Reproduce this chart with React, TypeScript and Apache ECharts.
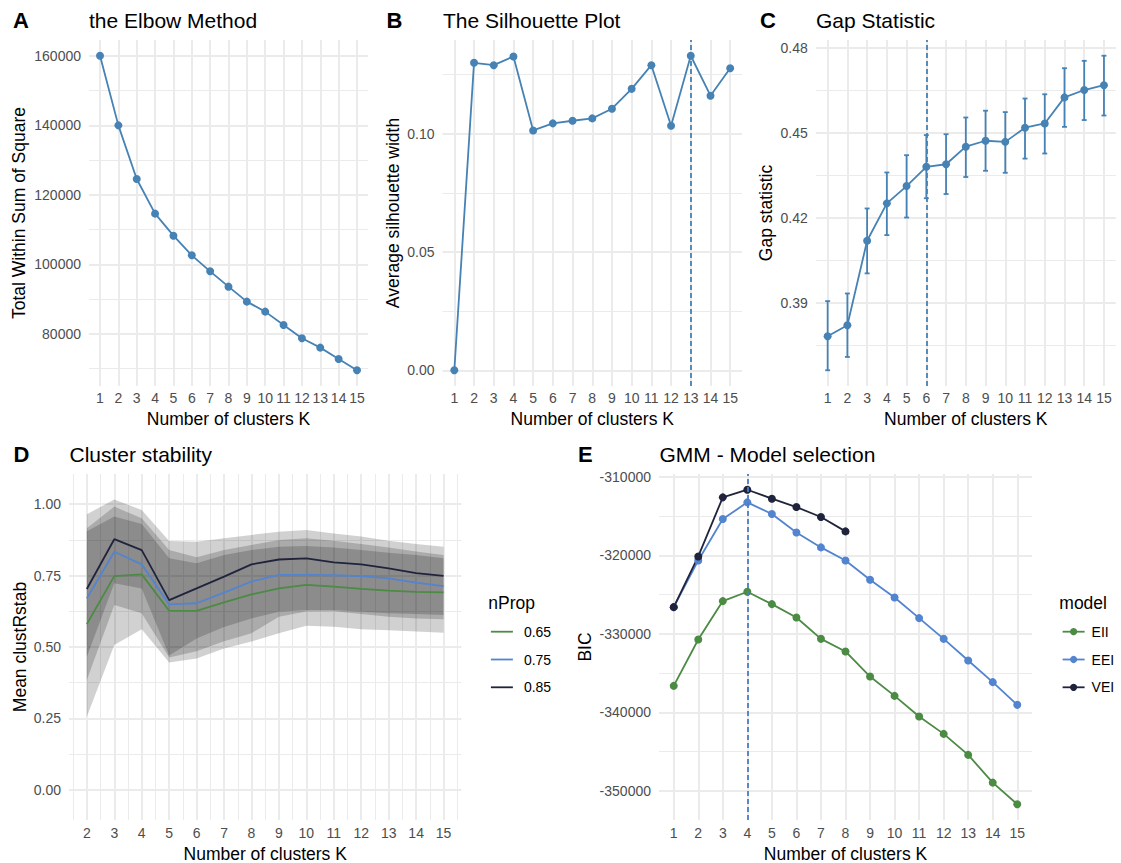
import React, { useEffect, useRef } from 'react';
import * as echarts from 'echarts';

const FONT = '"Liberation Sans", Arial, Helvetica, sans-serif';

// ---------- Panel A: elbow ----------
const kValues = [1, 2, 3, 4, 5, 6, 7, 8, 9, 10, 11, 12, 13, 14, 15];
const wssValues = [160000, 139980, 124550, 114590, 108260, 102610, 98010, 93600, 89290, 86420, 82590, 78750, 76070, 72810, 69560];
const wssTicks = [80000, 100000, 120000, 140000, 160000];
const wssMinorTicks = [70000, 90000, 110000, 130000, 150000];

// ---------- Panel B: silhouette ----------
const silhouetteValues = [0.0, 0.13, 0.129, 0.1327, 0.1014, 0.1044, 0.1055, 0.1065, 0.1106, 0.119, 0.129, 0.1034, 0.133, 0.1161, 0.1277];
const silhouetteBestK = 13;
const silTicks = [0, 0.05, 0.1];
const silMinorTicks = [0.025, 0.075, 0.125];

// ---------- Panel C: gap statistic ----------
const gapValues = [0.3782, 0.3821, 0.4119, 0.4251, 0.4312, 0.438, 0.4389, 0.4451, 0.4472, 0.4468, 0.4518, 0.4533, 0.4625, 0.4651, 0.4668];
const gapLower = [0.3662, 0.3709, 0.4004, 0.4139, 0.4201, 0.4269, 0.4284, 0.4344, 0.4366, 0.4359, 0.4409, 0.4427, 0.4521, 0.4545, 0.4561];
const gapUpper = [0.3906, 0.3933, 0.4233, 0.436, 0.4421, 0.4492, 0.4495, 0.4554, 0.4578, 0.4573, 0.4621, 0.4636, 0.4728, 0.4754, 0.4772];
const gapBestK = 6;
const gapTicks = [0.39, 0.42, 0.45, 0.48];
const gapMinorTicks = [0.375, 0.405, 0.435, 0.465];

// ---------- Panel D: cluster stability ----------
const stabK = [2, 3, 4, 5, 6, 7, 8, 9, 10, 11, 12, 13, 14, 15];
const stab065 = [0.58, 0.748, 0.754, 0.627, 0.626, 0.656, 0.684, 0.705, 0.717, 0.711, 0.703, 0.697, 0.693, 0.691];
const stab075 = [0.67, 0.833, 0.789, 0.649, 0.653, 0.69, 0.729, 0.752, 0.752, 0.751, 0.748, 0.74, 0.725, 0.713];
const stab085 = [0.703, 0.877, 0.839, 0.664, 0.705, 0.746, 0.789, 0.806, 0.81, 0.796, 0.789, 0.775, 0.758, 0.749];
const ribbon065Lower = [0.256, 0.507, 0.562, 0.446, 0.46, 0.495, 0.519, 0.548, 0.574, 0.571, 0.562, 0.559, 0.554, 0.55];
const ribbon065Upper = [0.905, 0.956, 0.93, 0.81, 0.793, 0.822, 0.839, 0.851, 0.853, 0.848, 0.839, 0.83, 0.822, 0.81];
const ribbon075Lower = [0.385, 0.647, 0.618, 0.463, 0.485, 0.52, 0.548, 0.606, 0.624, 0.625, 0.615, 0.606, 0.6, 0.597];
const ribbon075Upper = [0.915, 0.991, 0.95, 0.839, 0.814, 0.839, 0.857, 0.874, 0.88, 0.872, 0.86, 0.848, 0.834, 0.822];
const ribbon085Lower = [0.466, 0.723, 0.705, 0.47, 0.53, 0.57, 0.6, 0.623, 0.629, 0.629, 0.623, 0.618, 0.615, 0.612];
const ribbon085Upper = [0.964, 1.016, 0.979, 0.871, 0.868, 0.88, 0.892, 0.903, 0.909, 0.897, 0.886, 0.872, 0.86, 0.851];
const stabLimits = [-0.05, 1.05];
const stabTicks = [0, 0.25, 0.5, 0.75, 1];
const stabMinorTicks = [0.125, 0.375, 0.625, 0.875];
const stabKMinorTicks = [1.5, 2.5, 3.5, 4.5, 5.5, 6.5, 7.5, 8.5, 9.5, 10.5, 11.5, 12.5, 13.5, 14.5, 15.5];
const nPropNames = ['0.65', '0.75', '0.85'];

// ---------- Panel E: GMM BIC ----------
const bicEII = [-336610, -330700, -325810, -324620, -326200, -327900, -330620, -332230, -335420, -337890, -340520, -342730, -345410, -348940, -351700];
const bicEEI = [-326580, -320630, -315360, -313230, -314720, -317060, -318970, -320630, -323090, -325350, -327980, -330620, -333380, -336140, -339030];
const bicVEI = [-326580, -320120, -312590, -311620, -312760, -313830, -315100, -316930];
const bicBestK = 4;
const bicTicks = [-350000, -340000, -330000, -320000, -310000];
const bicMinorTicks = [-345000, -335000, -325000, -315000];
const modelNames = ['EII', 'EEI', 'VEI'];

// ---------- styling ----------
const STEEL = '#4682B4';
const GREEN = '#4B8B43';
const BLUE = '#5284CF';
const NAVY = '#20233C';
const GRID_COL = '#EBEBEB';
const TICK_COL = '#4D4D4D';
const LW = 1.8;

function expand(lo: number, hi: number, m = 0.05): [number, number] {
  const r = hi - lo;
  return [lo - r * m, hi + r * m];
}

const boxes = [
  { left: 89, top: 40, width: 279, height: 346 },
  { left: 442.5, top: 40, width: 299.5, height: 346 },
  { left: 815.8, top: 40, width: 300, height: 346 },
  { left: 69, top: 474, width: 392.4, height: 346 },
  { left: 659, top: 474, width: 373, height: 346 },
];

type AxCfg = {
  xMin: number; xMax: number; xMajor: number[]; xMinor: number[];
  yMin: number; yMax: number; yMajor: number[]; yMinor: number[];
  yFmt: (v: number) => string;
  xName: string; yName: string; xNameGap: number; yNameGap: number; xLabelMargin: number;
};

function buildAxes(i: number, c: AxCfg) {
  const nameStyle = { fontSize: 17.5, color: '#000', fontFamily: FONT };
  const labelStyle = { color: TICK_COL, fontSize: 14, fontFamily: FONT };
  const xMain = {
    type: 'value', gridIndex: i, min: c.xMin, max: c.xMax,
    axisLine: { show: false },
    axisTick: { show: false, customValues: c.xMajor },
    axisLabel: { ...labelStyle, customValues: c.xMajor, margin: c.xLabelMargin, formatter: (v: number) => String(Math.round(v)) },
    splitLine: { show: true, lineStyle: { color: GRID_COL, width: 2 } },
    name: c.xName, nameLocation: 'middle', nameGap: c.xNameGap, nameTextStyle: nameStyle,
    z: 0,
  };
  const xMinor = {
    type: 'value', gridIndex: i, min: c.xMin, max: c.xMax,
    axisLine: { show: false },
    axisTick: { show: false, customValues: c.xMinor.length ? c.xMinor : [c.xMin] },
    axisLabel: { show: false, customValues: c.xMinor.length ? c.xMinor : [c.xMin] },
    splitLine: { show: c.xMinor.length > 0, lineStyle: { color: GRID_COL, width: 1 } },
    z: 0,
  };
  const yMain = {
    type: 'value', gridIndex: i, min: c.yMin, max: c.yMax, position: 'left',
    axisLine: { show: false },
    axisTick: { show: false, customValues: c.yMajor },
    axisLabel: { ...labelStyle, customValues: c.yMajor, margin: 8, formatter: c.yFmt },
    splitLine: { show: true, lineStyle: { color: GRID_COL, width: 2 } },
    name: c.yName, nameLocation: 'middle', nameGap: c.yNameGap, nameTextStyle: nameStyle,
    z: 0,
  };
  const yMinor = {
    type: 'value', gridIndex: i, min: c.yMin, max: c.yMax, position: 'left',
    axisLine: { show: false },
    axisTick: { show: false, customValues: c.yMinor },
    axisLabel: { show: false, customValues: c.yMinor },
    splitLine: { show: true, lineStyle: { color: GRID_COL, width: 1 } },
    z: 0,
  };
  return { x: [xMain, xMinor], y: [yMain, yMinor] };
}

const pairs = (xs: number[], ys: number[]) => ys.map((y, i) => [xs[i], y]);

function ribbonSeries(lower: number[], upper: number[], name: string) {
  return {
    type: 'custom', name, xAxisIndex: 6, yAxisIndex: 6, silent: true, z: 1,
    data: [[stabK[0], lower[0]]],
    encode: { x: 0, y: 1 },
    renderItem: (_p: any, api: any) => {
      const pts: number[][] = [];
      stabK.forEach((k, i) => pts.push(api.coord([k, upper[i]])));
      for (let i = stabK.length - 1; i >= 0; i--) pts.push(api.coord([stabK[i], lower[i]]));
      return { type: 'polygon', shape: { points: pts }, style: { fill: 'rgba(0,0,0,0.18)' } };
    },
  };
}

function dashedMark(x: number, color: string) {
  return {
    silent: true, symbol: ['none', 'none'], label: { show: false },
    lineStyle: { type: [5, 3], color, width: LW },
    data: [{ xAxis: x }],
  };
}

export default function App() {
  const ref = useRef<HTMLDivElement>(null);
  useEffect(() => {
    if (!ref.current) return;
    const chart = echarts.init(ref.current, null, { renderer: 'svg' });

    const discreteX = expand(1, 15, 0.6 / 14);
    const aY = expand(Math.min(...wssValues), Math.max(...wssValues));
    const bY = expand(Math.min(...silhouetteValues), Math.max(...silhouetteValues));
    const cY = expand(Math.min(...gapLower), Math.max(...gapUpper));
    const dX = expand(stabK[0], stabK[stabK.length - 1]);
    const dY = expand(stabLimits[0], stabLimits[1]);
    const allBic = [...bicEII, ...bicEEI, ...bicVEI];
    const eY = expand(Math.min(...allBic), Math.max(...allBic));
    const xName = 'Number of clusters K';
    const f2 = (v: number) => v.toFixed(2);
    const fInt = (v: number) => String(Math.round(v));

    const cfgs: AxCfg[] = [
      { xMin: discreteX[0], xMax: discreteX[1], xMajor: kValues, xMinor: [], yMin: aY[0], yMax: aY[1], yMajor: wssTicks, yMinor: wssMinorTicks, yFmt: fInt, xName, yName: 'Total Within Sum of Square', xNameGap: 23.5, yNameGap: 61, xLabelMargin: 5 },
      { xMin: discreteX[0], xMax: discreteX[1], xMajor: kValues, xMinor: [], yMin: bY[0], yMax: bY[1], yMajor: silTicks, yMinor: silMinorTicks, yFmt: f2, xName, yName: 'Average silhouette width', xNameGap: 23.5, yNameGap: 40.5, xLabelMargin: 5 },
      { xMin: discreteX[0], xMax: discreteX[1], xMajor: kValues, xMinor: [], yMin: cY[0], yMax: cY[1], yMajor: gapTicks, yMinor: gapMinorTicks, yFmt: f2, xName, yName: 'Gap statistic', xNameGap: 23.5, yNameGap: 40.5, xLabelMargin: 5 },
      { xMin: dX[0], xMax: dX[1], xMajor: stabK, xMinor: stabKMinorTicks, yMin: dY[0], yMax: dY[1], yMajor: stabTicks, yMinor: stabMinorTicks, yFmt: f2, xName, yName: 'Mean clustRstab', xNameGap: 24.5, yNameGap: 40, xLabelMargin: 6 },
      { xMin: discreteX[0], xMax: discreteX[1], xMajor: kValues, xMinor: [], yMin: eY[0], yMax: eY[1], yMajor: bicTicks, yMinor: bicMinorTicks, yFmt: fInt, xName, yName: 'BIC', xNameGap: 24.5, yNameGap: 65, xLabelMargin: 6 },
    ];

    const xAxes: any[] = [];
    const yAxes: any[] = [];
    cfgs.forEach((c, i) => {
      const a = buildAxes(i, c);
      xAxes.push(...a.x);
      yAxes.push(...a.y);
    });

    const lineBase = { symbol: 'circle', symbolSize: 8, lineStyle: { width: LW }, z: 3 };

    const series: any[] = [
      // A
      { ...lineBase, type: 'line', name: 'wss', xAxisIndex: 0, yAxisIndex: 0, data: pairs(kValues, wssValues), color: STEEL },
      // B
      { ...lineBase, type: 'line', name: 'silhouette', xAxisIndex: 2, yAxisIndex: 2, data: pairs(kValues, silhouetteValues), color: STEEL, markLine: dashedMark(silhouetteBestK, STEEL) },
      // C error bars
      {
        type: 'custom', name: 'gapErr', xAxisIndex: 4, yAxisIndex: 4, z: 2,
        data: kValues.map((k, i) => [k, gapLower[i], gapUpper[i]]),
        encode: { x: 0, y: [1, 2] },
        renderItem: (_p: any, api: any) => {
          const x = api.value(0);
          const lo = api.coord([x, api.value(1)]);
          const hi = api.coord([x, api.value(2)]);
          const hw = api.size([0.25, 0])[0] / 2;
          const style = { stroke: STEEL, lineWidth: LW };
          return {
            type: 'group',
            children: [
              { type: 'line', shape: { x1: lo[0], y1: lo[1], x2: hi[0], y2: hi[1] }, style },
              { type: 'line', shape: { x1: hi[0] - hw, y1: hi[1], x2: hi[0] + hw, y2: hi[1] }, style },
              { type: 'line', shape: { x1: lo[0] - hw, y1: lo[1], x2: lo[0] + hw, y2: lo[1] }, style },
            ],
          };
        },
      },
      { ...lineBase, type: 'line', name: 'gap', xAxisIndex: 4, yAxisIndex: 4, data: pairs(kValues, gapValues), color: STEEL, markLine: dashedMark(gapBestK, STEEL) },
      // D ribbons
      ribbonSeries(ribbon065Lower, ribbon065Upper, 'r065'),
      ribbonSeries(ribbon075Lower, ribbon075Upper, 'r075'),
      ribbonSeries(ribbon085Lower, ribbon085Upper, 'r085'),
      { type: 'line', name: nPropNames[0], xAxisIndex: 6, yAxisIndex: 6, symbol: 'none', data: pairs(stabK, stab065), color: GREEN, lineStyle: { width: LW }, z: 3 },
      { type: 'line', name: nPropNames[1], xAxisIndex: 6, yAxisIndex: 6, symbol: 'none', data: pairs(stabK, stab075), color: BLUE, lineStyle: { width: LW }, z: 3 },
      { type: 'line', name: nPropNames[2], xAxisIndex: 6, yAxisIndex: 6, symbol: 'none', data: pairs(stabK, stab085), color: NAVY, lineStyle: { width: LW }, z: 3 },
      // E
      { ...lineBase, type: 'line', name: modelNames[0], xAxisIndex: 8, yAxisIndex: 8, data: pairs(kValues, bicEII), color: GREEN, markLine: dashedMark(bicBestK, '#4A7DC8') },
      { ...lineBase, type: 'line', name: modelNames[1], xAxisIndex: 8, yAxisIndex: 8, data: pairs(kValues, bicEEI), color: BLUE },
      { ...lineBase, type: 'line', name: modelNames[2], xAxisIndex: 8, yAxisIndex: 8, data: pairs(kValues.slice(0, bicVEI.length), bicVEI), color: NAVY },
    ];

    const tag = (text: string, left: number, top: number) => ({
      text, left, top, padding: 0,
      textStyle: { fontSize: 22, fontWeight: 'bold', color: '#000', fontFamily: FONT },
    });
    const ttl = (text: string, left: number, top: number) => ({
      text, left, top, padding: 0,
      textStyle: { fontSize: 21, fontWeight: 'normal', color: '#000', fontFamily: FONT },
    });
    const legTitle = (text: string, left: number, top: number) => ({
      text, left, top, padding: 0,
      textStyle: { fontSize: 17.5, fontWeight: 'normal', color: '#000', fontFamily: FONT },
    });

    const option: any = {
      animation: false,
      backgroundColor: '#fff',
      textStyle: { fontFamily: FONT },
      title: [
        tag('A', 13, 9), ttl('the Elbow Method', 89, 9.5),
        tag('B', 386.5, 9), ttl('The Silhouette Plot', 443, 9.5),
        tag('C', 760, 9), ttl('Gap Statistic', 816, 9.5),
        tag('D', 13.5, 443.5), ttl('Cluster stability', 69.5, 444),
        tag('E', 578, 443.5), ttl('GMM - Model selection', 659.5, 444),
        legTitle('nProp', 488.3, 594), legTitle('model', 1059.3, 594),
      ],
      grid: boxes.map((b) => ({ ...b, containLabel: false, outerBoundsMode: 'none' })),
      xAxis: xAxes,
      yAxis: yAxes,
      legend: [
        {
          data: nPropNames, orient: 'vertical', left: 490, top: 624.7, padding: 0,
          itemWidth: 22, itemHeight: 14, itemGap: 13.8,
          itemStyle: { opacity: 0 }, lineStyle: { width: LW },
          textStyle: { fontSize: 14, color: '#000', fontFamily: FONT, padding: [0, 0, 0, 6] },
          selectedMode: false,
        },
        {
          data: modelNames, orient: 'vertical', left: 1061.7, top: 624.7, padding: 0,
          itemWidth: 22, itemHeight: 9, itemGap: 13.8,
          lineStyle: { width: LW },
          textStyle: { fontSize: 14, color: '#000', fontFamily: FONT, padding: [0, 0, 0, 2] },
          selectedMode: false,
        },
      ],
      series,
    };
    chart.setOption(option);
    return () => chart.dispose();
  }, []);

  return (
    <div
      ref={ref}
      style={{ position: 'absolute', left: 0, top: 0, width: 1121, height: 863, background: '#fff' }}
    />
  );
}
